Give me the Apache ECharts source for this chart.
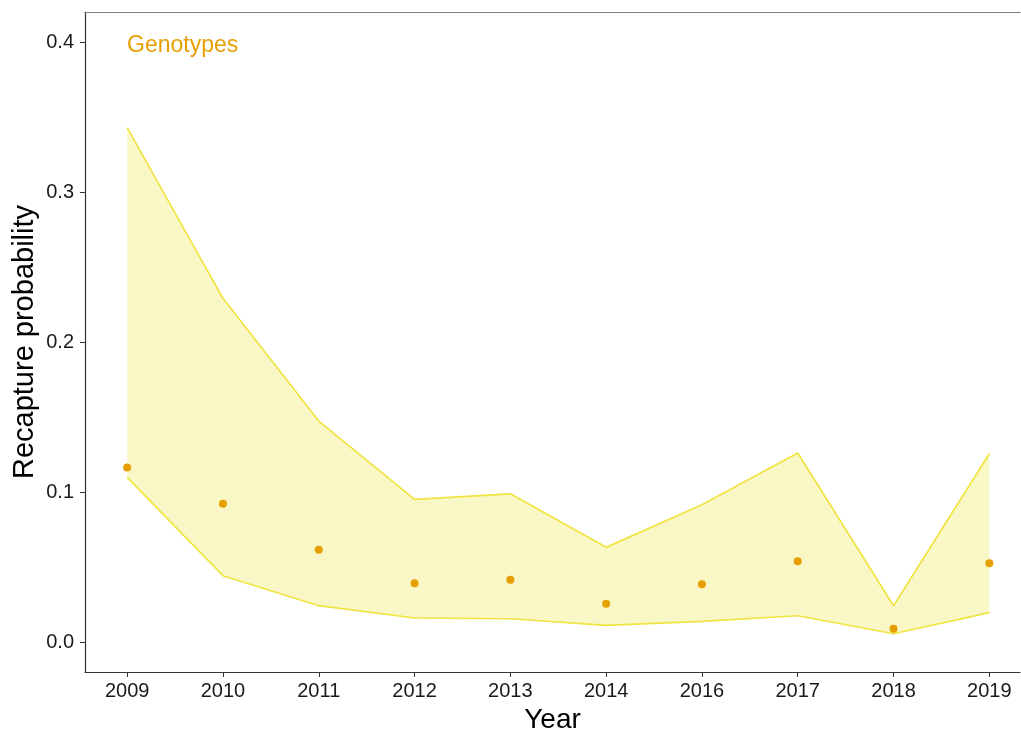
<!DOCTYPE html>
<html>
<head>
<meta charset="utf-8">
<script src="https://cdn.jsdelivr.net/npm/echarts@6/dist/echarts.min.js"></script>
<style>html,body{margin:0;padding:0;background:#fff;overflow:hidden}#c{width:1021px;height:731px}</style>
</head>
<body>
<div id="c"></div>
<script>
const years = ['2009','2010','2011','2012','2013','2014','2016','2017','2018','2019'];
const estimate = [0.1163, 0.0922, 0.0615, 0.0391, 0.0415, 0.0255, 0.0385, 0.0538, 0.0089, 0.0525];
const lower = [0.1098, 0.0442, 0.0242, 0.0160, 0.0155, 0.0111, 0.0138, 0.0175, 0.0055, 0.0196];
const upper = [0.3429, 0.2291, 0.1473, 0.0951, 0.0988, 0.0631, 0.0915, 0.1260, 0.0242, 0.1255];
const yTicks = [0, 0.1, 0.2, 0.3, 0.4];
const groupLabel = 'Genotypes';

const FONT = 'Liberation Sans, Arial, sans-serif';
const idx = years.map((_, i) => i);
const lowerData = lower.map((v, i) => [i, v]);
const upperData = upper.map((v, i) => [i, v]);
const pointData = estimate.map((v, i) => [i, v]);

const chart = echarts.init(document.getElementById('c'), null, {renderer: 'canvas'});
chart.setOption({
  animation: false,
  backgroundColor: '#fff',
  title: {
    text: groupLabel, left: 127, top: 34, padding: 0,
    textStyle: {color: '#E69F00', fontSize: 23, fontWeight: 'normal', fontFamily: FONT}
  },
  grid: {left: 85, right: 1, top: 12, bottom: 59, containLabel: false, outerBoundsMode: 'none'},
  xAxis: [{
    type: 'value', min: -0.44, max: 9.32, position: 'bottom',
    name: 'Year', nameLocation: 'middle', nameGap: 34, nameMoveOverlap: false,
    nameTextStyle: {fontSize: 28, color: '#000', fontFamily: FONT},
    axisLine: {show: true, onZero: false, lineStyle: {color: '#333', width: 1.2}},
    axisTick: {show: true, length: 5, customValues: idx, lineStyle: {color: '#333'}},
    axisLabel: {customValues: idx, margin: 9, fontSize: 20, color: '#1a1a1a', fontFamily: FONT,
      formatter: v => years[Math.round(v)]},
    splitLine: {show: false}
  }, {
    type: 'value', min: -0.44, max: 9.32, position: 'top',
    axisLine: {show: true, onZero: false, lineStyle: {color: '#808080', width: 1.2}},
    axisTick: {show: false}, axisLabel: {show: false}, splitLine: {show: false}
  }],
  yAxis: {
    type: 'value', min: -0.02, max: 0.42,
    name: 'Recapture probability', nameLocation: 'middle', nameGap: 46, nameRotate: 90,
    nameMoveOverlap: false,
    nameTextStyle: {fontSize: 29, color: '#000', fontFamily: FONT},
    axisLine: {show: true, onZero: false, lineStyle: {color: '#333', width: 1.2}},
    axisTick: {show: true, length: 5, customValues: yTicks, lineStyle: {color: '#333'}},
    axisLabel: {customValues: yTicks, margin: 11, fontSize: 20, color: '#1a1a1a', fontFamily: FONT,
      formatter: v => v.toFixed(1)},
    splitLine: {show: false}
  },
  series: [{
    type: 'custom', z: 1,
    data: [0],
    renderItem: function (params, api) {
      const pts = [];
      upper.forEach((v, i) => pts.push(api.coord([i, v])));
      for (let i = lower.length - 1; i >= 0; i--) pts.push(api.coord([i, lower[i]]));
      return {type: 'polygon', shape: {points: pts}, style: {fill: 'rgba(240,228,66,0.3)'}};
    }
  }, {
    type: 'line', data: upperData, symbol: 'none',
    lineStyle: {color: '#F0E442', width: 1.7}, z: 2
  }, {
    type: 'line', data: lowerData, symbol: 'none',
    lineStyle: {color: '#F0E442', width: 1.7}, z: 2
  }, {
    type: 'scatter', data: pointData, symbol: 'circle', symbolSize: 8,
    itemStyle: {color: '#E69F00', opacity: 1}, z: 5
  }]
});
</script>
</body>
</html>
